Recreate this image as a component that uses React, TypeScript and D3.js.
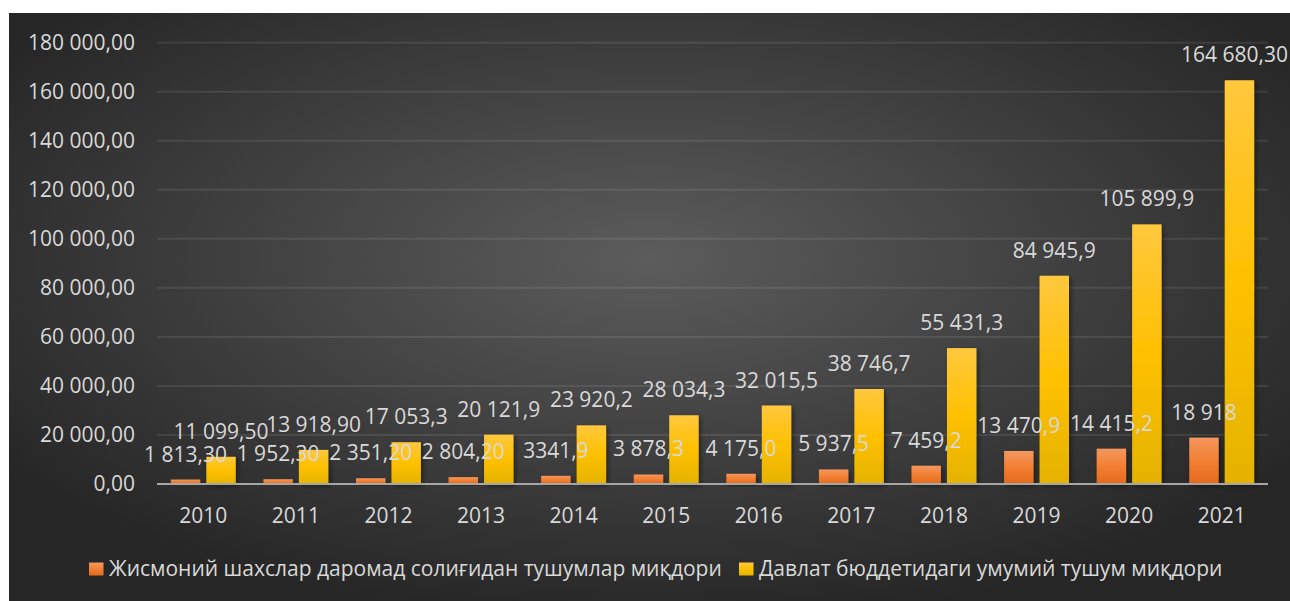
import React, { useEffect, useRef } from "react";
import * as d3 from "d3";

const years = ["2010", "2011", "2012", "2013", "2014", "2015", "2016", "2017", "2018", "2019", "2020", "2021"];
const incomeTax = [1813.3, 1952.3, 2351.2, 2804.2, 3341.9, 3878.3, 4175.0, 5937.5, 7459.2, 13470.9, 14415.2, 18918];
const incomeTaxLabels = ["1 813,30", "1 952,30", "2 351,20", "2 804,20", "3341,9", "3 878,3", "4 175,0", "5 937,5", "7 459,2", "13 470,9", "14 415,2", "18 918"];
const budget = [11099.5, 13918.9, 17053.3, 20121.9, 23920.2, 28034.3, 32015.5, 38746.7, 55431.3, 84945.9, 105899.9, 164680.3];
const budgetLabels = ["11 099,50", "13 918,90", "17 053,3", "20 121,9", "23 920,2", "28 034,3", "32 015,5", "38 746,7", "55 431,3", "84 945,9", "105 899,9", "164 680,30"];
const yTicks = [0, 20000, 40000, 60000, 80000, 100000, 120000, 140000, 160000, 180000];
const seriesNames = ["Жисмоний шахслар даромад солиғидан тушумлар миқдори", "Давлат бюддетидаги умумий тушум миқдори"];
const seriesKeys = ["tax", "budget"];

const W = 1290;
const H = 601;
const FONT = "'Open Sans', sans-serif";
const TEXT = "#d9d9d9";

export default function App() {
  const ref = useRef<SVGSVGElement | null>(null);

  useEffect(() => {
    document.body.style.margin = "0";
    const svg = d3.select(ref.current);
    svg.selectAll("*").remove();

    const defs = svg.append("defs");
    const bg = defs.append("radialGradient").attr("id", "bg").attr("cx", "0.5").attr("cy", "0.42").attr("r", "0.62")
      .attr("gradientUnits", "objectBoundingBox");
    bg.append("stop").attr("offset", "0").attr("stop-color", "#5c5c5c");
    bg.append("stop").attr("offset", "1").attr("stop-color", "#262626");

    const og = defs.append("linearGradient").attr("id", "og").attr("x1", 0).attr("y1", 0).attr("x2", 0).attr("y2", 1);
    og.append("stop").attr("offset", "0").attr("stop-color", "#f4975f");
    og.append("stop").attr("offset", "0.5").attr("stop-color", "#f27f32");
    og.append("stop").attr("offset", "1").attr("stop-color", "#e5691c");
    const yg = defs.append("linearGradient").attr("id", "yg").attr("x1", 0).attr("y1", 0).attr("x2", 0).attr("y2", 1);
    yg.append("stop").attr("offset", "0").attr("stop-color", "#ffc83e");
    yg.append("stop").attr("offset", "0.5").attr("stop-color", "#ffc000");
    yg.append("stop").attr("offset", "1").attr("stop-color", "#e4b300");

    const sh = defs.append("filter").attr("id", "sh").attr("x", "-30%").attr("y", "-10%").attr("width", "160%").attr("height", "130%");
    sh.append("feDropShadow").attr("dx", 2).attr("dy", 2).attr("stdDeviation", 2.5).attr("flood-color", "#000").attr("flood-opacity", 0.45);

    // background
    svg.append("rect").attr("x", 0).attr("y", 0).attr("width", W).attr("height", H).attr("fill", "#ffffff");
    svg.append("rect").attr("x", 9).attr("y", 13).attr("width", W - 9).attr("height", H - 13).attr("fill", "url(#bg)");

    const left = 157, right = 1268, top = 42.7, bottom = 484;
    const y = d3.scaleLinear().domain([0, 180000]).range([bottom, top]);
    const x0 = d3.scaleBand<string>().domain(years).range([left, right]).paddingInner(0).paddingOuter(0);
    const x1 = d3.scaleBand<string>().domain(seriesKeys).range([0, x0.bandwidth()]).paddingInner(0.17).paddingOuter(0.39);

    const fmt = d3.formatLocale({ decimal: ",", thousands: " ", grouping: [3], currency: ["", ""] }).format(",.2f");

    // gridlines
    svg.append("g").selectAll("line").data(yTicks.filter((t) => t > 0)).join("line")
      .attr("x1", left).attr("x2", right).attr("y1", (d) => y(d)).attr("y2", (d) => y(d))
      .attr("stroke", "rgba(255,255,255,0.09)").attr("stroke-width", 2);

    // y labels
    svg.append("g").selectAll("text").data(yTicks).join("text")
      .attr("x", 135).attr("y", (d) => y(d)).attr("dy", "0.35em").attr("text-anchor", "end")
      .attr("font-family", FONT).attr("font-size", 21).attr("fill", TEXT).text((d) => fmt(d));

    // bars
    const g = svg.append("g");
    const rows = years.map((yr, i) => ({ yr, vals: [incomeTax[i], budget[i]] }));
    const grp = g.selectAll("g").data(rows).join("g").attr("transform", (d) => `translate(${x0(d.yr)},0)`);
    grp.selectAll("rect").data((d) => d.vals.map((v, k) => ({ v, k }))).join("rect")
      .attr("x", (d) => x1(seriesKeys[d.k])!).attr("width", x1.bandwidth())
      .attr("y", (d) => y(d.v)).attr("height", (d) => bottom - y(d.v))
      .attr("fill", (d) => (d.k === 0 ? "url(#og)" : "url(#yg)")).attr("filter", "url(#sh)");

    // baseline
    svg.append("line").attr("x1", left).attr("x2", right).attr("y1", bottom).attr("y2", bottom)
      .attr("stroke", "#a6a6a6").attr("stroke-width", 2.2);

    // x labels
    svg.append("g").selectAll("text").data(years).join("text")
      .attr("x", (d) => x0(d)! + x0.bandwidth() / 2).attr("y", 523).attr("text-anchor", "middle")
      .attr("font-family", FONT).attr("font-size", 21).attr("fill", TEXT).text((d) => d);

    // data labels
    const lbl = svg.append("g");
    const addLabels = (vals: number[], labels: string[], k: number) => {
      lbl.selectAll(null).data(vals).join("text")
        .attr("x", (d, i) => x0(years[i])! + x1(seriesKeys[k])! + x1.bandwidth() / 2)
        .attr("y", (d) => y(d) - 18).attr("text-anchor", "middle")
        .attr("font-family", FONT).attr("font-size", 21).attr("fill", TEXT)
        .text((d, i) => labels[i])
        .each(function () {
          const t = this as SVGTextElement;
          const bb = t.getBBox();
          const maxRight = W - 2;
          if (bb.x + bb.width > maxRight) {
            const cx = parseFloat(t.getAttribute("x") || "0");
            t.setAttribute("x", String(cx - (bb.x + bb.width - maxRight)));
          }
        });
    };
    addLabels(incomeTax, incomeTaxLabels, 0);
    addLabels(budget, budgetLabels, 1);

    // legend
    const legX = [89, 739];
    const leg = svg.append("g");
    seriesNames.forEach((name, i) => {
      leg.append("rect").attr("x", legX[i]).attr("y", 562.5).attr("width", 14.5).attr("height", 13)
        .attr("fill", i === 0 ? "url(#og)" : "url(#yg)");
      leg.append("text").attr("x", legX[i] + 20).attr("y", 576).attr("font-family", FONT).attr("font-size", 21)
        .attr("fill", TEXT).text(name);
    });
  }, []);

  return <svg ref={ref} width={W} height={H} style={{ display: "block" }} />;
}
